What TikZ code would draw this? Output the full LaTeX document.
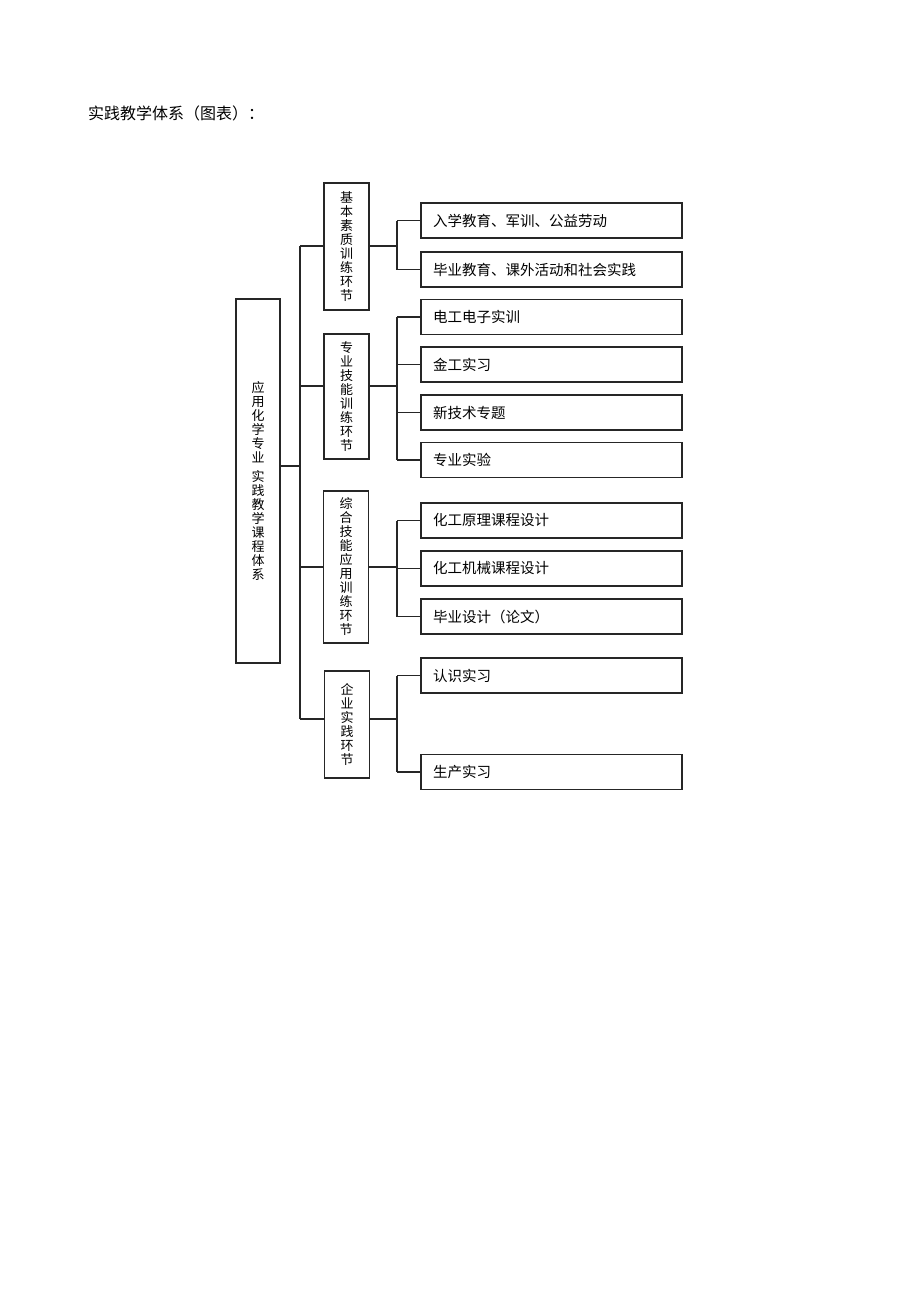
\documentclass[tikz,border=0pt]{standalone}
\usepackage{fontspec}
\newfontfamily\cjk{Noto Sans CJK SC}
\usetikzlibrary{calc}

\begin{document}
\begin{tikzpicture}[x=1pt,y=-1pt,
    box/.style={draw=black!85, line width=1.1pt, inner sep=0pt},
    vbox/.style={box, minimum width=45pt, align=center, font=\cjk\fontsize{13}{14}\selectfont},
    itembox/.style={box, minimum width=261pt, minimum height=35pt, text width=237pt, align=left, font=\cjk\fontsize{14.5}{15}\selectfont},
    link/.style={draw=black!85, line width=1.1pt}]
    \useasboundingbox (0,0) rectangle (920,1302);

    % title
    \node[anchor=west, inner sep=0pt, font=\cjk\fontsize{16}{17}\selectfont] (title) at (88,113) {实践教学体系（图表）：};

    % root
    \node[vbox, minimum width=44pt, minimum height=364pt] (root) at (258,481)
        {应\\用\\化\\学\\专\\业\\[5pt]实\\践\\教\\学\\课\\程\\体\\系};

    % stages
    \node[vbox, minimum height=127pt] (b1) at (346.5,246.5) {基\\本\\素\\质\\训\\练\\环\\节};
    \node[vbox, minimum height=125pt] (b2) at (346.5,396.5) {专\\业\\技\\能\\训\\练\\环\\节};
    \node[vbox, minimum height=152pt] (b3) at (346,567) {综\\合\\技\\能\\应\\用\\训\\练\\环\\节};
    \node[vbox, minimum height=107pt] (b4) at (347,724.5) {企\\业\\实\\践\\环\\节};

    % items
    \node[itembox] (c11) at (551.5,220.5) {入学教育、军训、公益劳动};
    \node[itembox] (c12) at (551.5,269.5) {毕业教育、课外活动和社会实践};
    \node[itembox] (c21) at (551.5,317) {电工电子实训};
    \node[itembox] (c22) at (551.5,364.5) {金工实习};
    \node[itembox] (c23) at (551.5,412.5) {新技术专题};
    \node[itembox] (c24) at (551.5,460) {专业实验};
    \node[itembox] (c31) at (551.5,520.5) {化工原理课程设计};
    \node[itembox] (c32) at (551.5,568.5) {化工机械课程设计};
    \node[itembox] (c33) at (551.5,616.5) {毕业设计（论文）};
    \node[itembox] (c41) at (551.5,675.5) {认识实习};
    \node[itembox] (c42) at (551.5,772) {生产实习};

    % junctions
    \coordinate (r0) at (300,466);
    \coordinate (j1) at (300,246);
    \coordinate (j2) at (300,386);
    \coordinate (j3) at (300,567);
    \coordinate (j4) at (300,719);
    \coordinate (k1) at (397,246);
    \coordinate (k2) at (397,386);
    \coordinate (k3) at (397,567);
    \coordinate (k4) at (397,719);

    % root to stages
    \draw[link] (root.east |- r0) -- (r0);
    \draw[link] (j1) -- (j4);
    \foreach \i in {1,...,4}
        \draw[link] (j\i) -- (j\i -| b\i.west);

    % stages to items
    \foreach \i in {1,...,4}
        \draw[link] (b\i.east |- k\i) -- (k\i);
    \draw[link] (k1 |- c11) -- (k1 |- c12);
    \draw[link] (k2 |- c21) -- (k2 |- c24);
    \draw[link] (k3 |- c31) -- (k3 |- c33);
    \draw[link] (k4 |- c41) -- (k4 |- c42);
    \foreach \c in {c11,c12}
        \draw[link] (k1 |- \c) -- (\c.west);
    \foreach \c in {c21,c22,c23,c24}
        \draw[link] (k2 |- \c) -- (\c.west);
    \foreach \c in {c31,c32,c33}
        \draw[link] (k3 |- \c) -- (\c.west);
    \foreach \c in {c41,c42}
        \draw[link] (k4 |- \c) -- (\c.west);

\end{tikzpicture}
\end{document}
